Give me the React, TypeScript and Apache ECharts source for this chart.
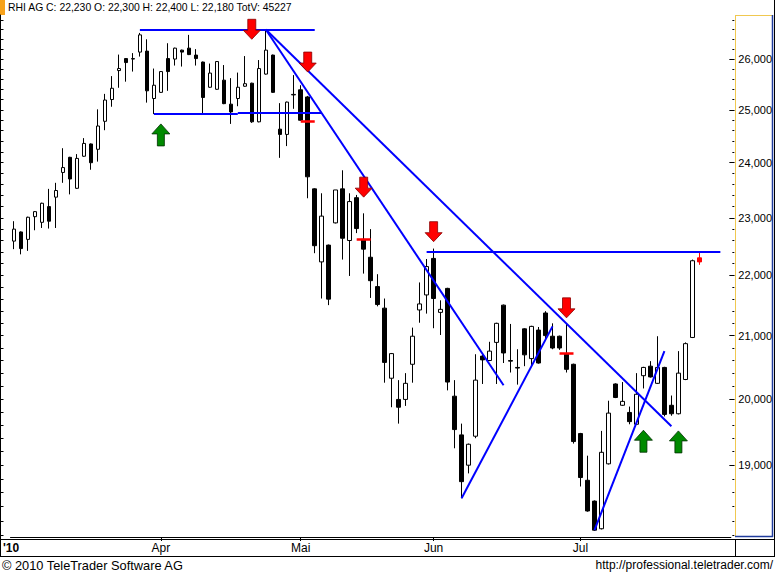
import React, { useEffect, useRef } from "react";
import * as echarts from "echarts";

const TITLE = "RHI AG C: 22,230 O: 22,300 H: 22,400 L: 22,180 TotV: 45227";
const COPYRIGHT = "\u00a9 2010 TeleTrader Software AG";
const URL_TEXT = "http://professional.teletrader.com/";
const YEAR_LABEL = "'10";
const START_DATE = "2010-03-03";
const HOLIDAYS = ["2010-04-02", "2010-04-05", "2010-05-13", "2010-05-24", "2010-06-03"];
const MONTH_NAMES = ["Jan", "Feb", "M\u00e4r", "Apr", "Mai", "Jun", "Jul", "Aug", "Sep"];
const N_CATEGORIES = 103;

const opens = [22590,22750,22620,23020,22920,23200,23370,23820,24100,23530,24120,24350,24250,24780,25200,25770,26010,26000,26140,26160,25220,25340,26010,26000,26180,26220,26080,25940,25440,25400,25580,25110,25220,25460,25520,24770,25700,26080,24630,24530,25290,25390,25250,23520,22230,22520,22910,23520,22600,23360,22620,22310,21810,21450,20320,19990,19990,20540,21420,21670,22290,21380,21780,20040,19450,19000,19430,20670,20600,20890,21500,20600,20490,21110,20630,21090,21370,20990,20990,20710,20540,19470,18780,18480,18090,19020,20230,19900,19790,19610,20360,20510,20240,20490,19900,19770,20300,20970,22300];
const highs = [22940,22760,23020,23120,23270,23520,23630,24270,24110,24160,24460,24360,25010,25310,25660,26090,26020,26120,26530,26400,25810,25760,26320,26230,26190,26490,26200,25950,25910,25960,25880,25620,25730,26060,25530,25980,26590,26090,25130,25160,25680,25480,25270,23530,23440,22530,23500,23860,23440,23410,23080,22800,22020,21610,20720,20290,20400,21130,21880,22280,22460,21580,21790,20290,19620,19320,20700,20700,20900,21210,21510,21190,20780,21120,21160,21140,21400,21200,21000,21200,20550,19480,19140,18490,19510,19970,20240,20260,19880,20400,20500,20590,20990,20500,20050,20750,20890,22270,22400];
const lows = [22450,22360,22420,22780,22820,22810,22820,23630,23420,23520,24110,23870,24020,24610,25060,25430,25550,25750,26050,25140,24920,25330,25370,25870,25850,26080,25870,24930,25430,25390,25110,24730,25070,25450,24750,24760,25690,25330,24090,24310,25020,24790,23350,22380,21610,21500,22900,22270,21990,22730,22030,21620,21480,20250,19870,19620,19890,20250,21210,21360,21120,21010,20130,19250,18520,18880,19400,20230,20590,20230,20560,20410,20220,20510,20510,20550,20930,20780,20770,20410,19320,18690,18330,18060,18080,19010,20010,19890,19610,19600,20160,20330,20230,19730,19740,19760,20290,20960,22180];
const closes = [22800,22460,23010,23110,23260,22940,23490,23910,23700,24080,24360,24000,24690,25190,25420,25810,25930,26010,26490,25370,25480,25750,25750,26220,26140,26090,26010,25240,25720,25950,25120,24960,25440,25510,24770,25810,26180,25340,24530,25150,25300,24800,23740,22510,23030,21600,23500,22640,23290,22810,22450,21910,21510,20570,20710,19870,20240,20990,21520,22150,21610,21430,20260,19530,18760,19310,20290,20610,20750,21200,20720,20590,20480,20690,21150,20560,21000,20800,20800,20460,19350,18820,18340,18070,19190,19780,20020,19960,19650,20070,20490,20340,20490,19760,19770,20400,20870,22250,22230];

const Y_MIN = 17975;
const Y_MAX = 26900;
const TICK_LABELS = [19000, 20000, 21000, 22000, 23000, 24000, 25000, 26000];
const MINOR_STEP = 200;

// trend lines: [startIndex, startPrice, endIndex, endPrice]
const TREND_LINES = [
  [18, 26600, 43, 26600],
  [20, 24920, 32, 24920],
  [32, 24940, 44, 24940],
  [36, 26600, 70, 20210],
  [36, 26600, 94, 19580],
  [59, 22400, 101, 22400],
  [64, 18520, 77, 21150],
  [83, 18070, 93, 20750],
];
// red signal levels: [index, price]
const SIGNAL_LEVELS = [
  [42, 24790],
  [50, 22620],
  [79, 20720],
];
// sell arrows (tip price) and buy arrows (tip price)
const SELL_SIGNALS = [
  [34, 26400],
  [42, 25740],
  [50, 23370],
  [60, 22580],
  [79, 21290],
];
const BUY_SIGNALS = [
  [21, 24730],
  [90, 19520],
  [95, 19510],
];

const lg = (v: number) => Math.log10(v);
const fmt = (v: number) => Math.round(v).toLocaleString("en-US");

function buildDates(n: number): string[] {
  const out: string[] = [];
  const d = new Date(START_DATE + "T00:00:00Z");
  while (out.length < n) {
    const dow = d.getUTCDay();
    const iso = d.toISOString().slice(0, 10);
    if (dow !== 0 && dow !== 6 && !HOLIDAYS.includes(iso)) out.push(iso);
    d.setUTCDate(d.getUTCDate() + 1);
  }
  return out;
}

const DOWN_ARROW = "path://M4.5,0 L12.5,0 L12.5,11 L17,11 L8.5,20 L0,11 L4.5,11 Z";
const UP_ARROW = "path://M9,0 L18,10 L12.5,10 L12.5,22 L5.5,22 L5.5,10 L0,10 Z";

export default function App() {
  const ref = useRef<HTMLDivElement>(null);
  useEffect(() => {
    if (!ref.current) return;
    const chart = echarts.init(ref.current, undefined, { renderer: "svg" });
    const dates = buildDates(N_CATEGORIES);
    const isMonthStart = (i: number) =>
      i > 0 && dates[i].slice(5, 7) !== dates[i - 1].slice(5, 7);

    const last = opens.length - 1;
    const candleData = opens.map((o, i) => {
      const v = [lg(o), lg(closes[i]), lg(lows[i]), lg(highs[i])];
      if (i === last) {
        return {
          value: v,
          itemStyle: { color: "#ff0000", color0: "#ff0000", borderColor: "#ff0000", borderColor0: "#ff0000" },
        };
      }
      return v;
    });

    const majorTicks = TICK_LABELS.map(lg);
    const minorTicks: number[] = [];
    for (let p = 18000; p <= 26800; p += MINOR_STEP) minorTicks.push(lg(p));

    const yBase = {
      type: "value" as const,
      min: lg(Y_MIN),
      max: lg(Y_MAX),
      scale: true,
      splitLine: { show: false },
    };

    const markLineData: any[] = [];
    TREND_LINES.forEach(([a, pa, b, pb]) => {
      markLineData.push([
        { coord: [a, lg(pa)], lineStyle: { color: "#0000ff", width: 2, type: "solid" } },
        { coord: [b, lg(pb)] },
      ]);
    });
    SIGNAL_LEVELS.forEach(([i, p]) => {
      markLineData.push([
        { coord: [i - 1, lg(p)], lineStyle: { color: "#ff0000", width: 2.5, type: "solid" } },
        { coord: [i + 1, lg(p)] },
      ]);
    });
    markLineData.push({
      yAxis: lg(closes[last]),
      lineStyle: { opacity: 0, width: 0 },
      label: {
        show: true,
        position: "end",
        distance: 5,
        formatter: () => fmt(closes[last]),
        backgroundColor: "#000",
        color: "#fff",
        fontSize: 11,
        fontFamily: "'Liberation Sans', Arial, sans-serif",
        padding: [2, 2, 1, 2],
      },
    });

    const markPointData: any[] = [];
    SELL_SIGNALS.forEach(([i, p]) => {
      markPointData.push({
        coord: [i, lg(p)],
        symbol: DOWN_ARROW,
        symbolSize: [17, 20],
        symbolOffset: [0, "-50%"],
        itemStyle: { color: "#ff0000", borderColor: "#8a0000", borderWidth: 0.8 },
      });
    });
    BUY_SIGNALS.forEach(([i, p]) => {
      markPointData.push({
        coord: [i, lg(p)],
        symbol: UP_ARROW,
        symbolSize: [18, 22],
        symbolOffset: [0, "50%"],
        itemStyle: { color: "#008a00", borderColor: "#003000", borderWidth: 0.8 },
      });
    });

    const font = "'Liberation Sans', Arial, sans-serif";

    chart.setOption({
      animation: false,
      backgroundColor: "#ffffff",
      textStyle: { fontFamily: font },
      grid: { left: 10.5, right: 43.5, top: 15, bottom: 36, containLabel: false },
      xAxis: {
        type: "category",
        data: dates,
        boundaryGap: true,
        axisLine: { show: true, lineStyle: { color: "#000", width: 1 } },
        axisTick: {
          show: true,
          alignWithLabel: true,
          interval: (i: number) => isMonthStart(i),
          length: 4,
          lineStyle: { color: "#000" },
        },
        axisLabel: {
          interval: (i: number) => isMonthStart(i),
          formatter: (v: string) => MONTH_NAMES[parseInt(v.slice(5, 7), 10) - 1],
          color: "#000",
          fontSize: 12,
          fontFamily: font,
          margin: 5,
        },
        splitLine: { show: false },
      },
      yAxis: [
        {
          ...yBase,
          position: "right",
          offset: 3.5,
          axisLine: { show: false },
          axisTick: { show: true, inside: true, length: 5, customValues: majorTicks, lineStyle: { color: "#000" } },
          axisLabel: {
            customValues: majorTicks,
            formatter: (v: number) => fmt(Math.pow(10, v)),
            color: "#000",
            fontSize: 11,
            fontFamily: font,
            margin: 4,
          },
        },
        {
          ...yBase,
          position: "right",
          offset: 3.5,
          axisLine: { show: false },
          axisTick: { show: true, inside: true, length: 2, customValues: minorTicks, lineStyle: { color: "#000" } },
          axisLabel: { show: false },
        },
        {
          ...yBase,
          position: "left",
          offset: 10,
          axisLine: { show: true, lineStyle: { color: "#000" } },
          axisTick: { show: true, inside: true, length: 3, customValues: minorTicks, lineStyle: { color: "#000" } },
          axisLabel: { show: false },
        },
      ],
      series: [
        {
          type: "candlestick",
          yAxisIndex: 0,
          data: candleData,
          barWidth: 4,
          itemStyle: {
            color: "#ffffff",
            color0: "#000000",
            borderColor: "#000000",
            borderColor0: "#000000",
            borderWidth: 1,
          },
          markLine: {
            silent: true,
            symbol: ["none", "none"],
            label: { show: false },
            data: markLineData,
          },
          markPoint: {
            silent: true,
            label: { show: false },
            data: markPointData,
          },
        },
      ],
      graphic: [
        { type: "rect", shape: { x: 0, y: 0, width: 5, height: 15 }, style: { fill: "#f7a21b" } },
        { type: "text", x: 8, y: 2, style: { text: TITLE, font: "10.4px " + font, fill: "#000" } },
        { type: "line", shape: { x1: 735.5, y1: 15, x2: 735.5, y2: 537 }, style: { stroke: "#f0c850", lineWidth: 1 } },
        { type: "line", shape: { x1: 735, y1: 15.5, x2: 773, y2: 15.5 }, style: { stroke: "#f0c850", lineWidth: 1 } },
        { type: "line", shape: { x1: 772.5, y1: 15, x2: 772.5, y2: 537 }, style: { stroke: "#203c9c", lineWidth: 1.5 } },
        { type: "line", shape: { x1: 735, y1: 536.5, x2: 773, y2: 536.5 }, style: { stroke: "#203c9c", lineWidth: 1.5 } },
        { type: "line", shape: { x1: 774.5, y1: 0, x2: 774.5, y2: 556 }, style: { stroke: "#000", lineWidth: 1 } },
        { type: "line", shape: { x1: 0, y1: 539.5, x2: 775, y2: 539.5 }, style: { stroke: "#000", lineWidth: 1 } },
        { type: "line", shape: { x1: 0, y1: 556.5, x2: 775, y2: 556.5 }, style: { stroke: "#000", lineWidth: 1 } },
        { type: "line", shape: { x1: 735.5, y1: 539, x2: 735.5, y2: 556 }, style: { stroke: "#000", lineWidth: 1 } },
        { type: "line", shape: { x1: 0.5, y1: 537, x2: 0.5, y2: 556 }, style: { stroke: "#000", lineWidth: 1 } },
        { type: "text", x: 3, y: 548, style: { text: YEAR_LABEL, font: "bold 12px " + font, fill: "#000", verticalAlign: "middle" } },
        { type: "text", x: 2, y: 565, style: { text: COPYRIGHT, font: "12.8px " + font, fill: "#000", verticalAlign: "middle" } },
        { type: "text", x: 773, y: 565, style: { text: URL_TEXT, font: "12px " + font, fill: "#000", align: "right", verticalAlign: "middle" } },
      ],
    });
    return () => chart.dispose();
  }, []);
  return (
    <div
      ref={ref}
      style={{ position: "fixed", left: 0, top: 0, width: 775, height: 573, background: "#fff" }}
    />
  );
}
